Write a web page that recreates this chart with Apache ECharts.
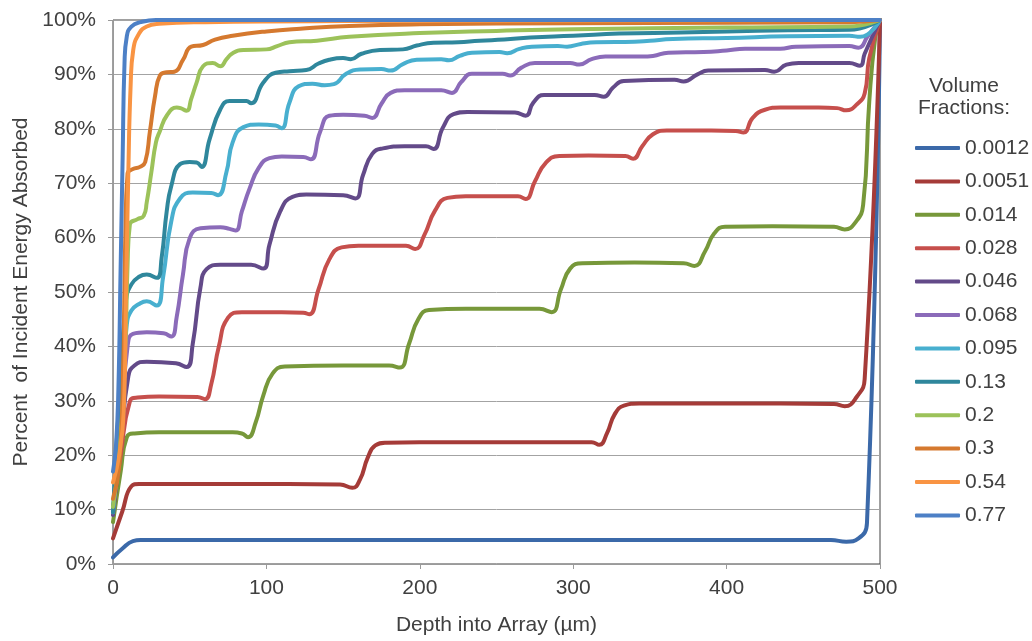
<!DOCTYPE html>
<html>
<head>
<meta charset="utf-8">
<title>Percent of Incident Energy Absorbed vs Depth</title>
<script src="https://cdn.jsdelivr.net/npm/echarts@6/dist/echarts.min.js"></script>
<style>
  html, body { margin: 0; padding: 0; background: #ffffff; }
  #chart { width: 1032px; height: 641px; }
</style>
</head>
<body>
<div id="chart"></div>
<script>
// Volume fractions shown in the legend, in drawing order
const fractions = ['0.0012', '0.0051', '0.014', '0.028', '0.046', '0.068',
                   '0.095', '0.13', '0.2', '0.3', '0.54', '0.77'];

// [depth (µm), percent absorbed] for each volume fraction
const vf0012 = [[0,1.2],[6,2.8],[13,4.2],[18,4.4],[100,4.4],[200,4.4],[300,4.4],[400,4.4],[468,4.4],[478,4.1],[486,4.7],[491.5,7.5],[500,100]];
const vf0051 = [[0,4.7],[6,9.6],[12,14.3],[17,14.7],[80,14.7],[148,14.6],[156,14.0],[161,15.5],[166,19.5],[171,21.8],[178,22.3],[200,22.4],[260,22.4],[312,22.4],[317,21.9],[322,24],[327,27.5],[333,29.1],[343,29.5],[400,29.5],[470,29.4],[477,29.0],[485,30.8],[490,34],[500,100]];
const vf014 = [[0,7.7],[5,17],[9,23.3],[14,24],[30,24.2],[78,24.2],[84,24],[88,23.3],[93,26],[98,31],[104,35],[112,36.3],[150,36.5],[180,36.5],[187,36.1],[193,40.5],[199,45],[206,46.7],[230,46.9],[278,46.9],[286,46.3],[292,50.5],[298,54.3],[306,55.3],[340,55.4],[372,55.3],[379,54.8],[386,57.5],[392,60.8],[399,62],[430,62.1],[470,62.0],[477,61.5],[484,62.8],[489,66],[493,85],[497,97],[500,100]];
const vf028 = [[0,10],[5,20],[11,29.9],[16,30.6],[30,30.8],[55,30.7],[60,30.3],[64,33],[69,40],[75,45.3],[84,46.3],[110,46.3],[124,46.2],[128,45.9],[134,50.5],[141,56],[149,58.2],[160,58.5],[191,58.5],[197,57.9],[203,60.5],[210,65],[218,67.3],[230,67.6],[264,67.6],[269,67.1],[275,70.3],[282,73.7],[291,75],[310,75.1],[334,75],[339,74.5],[345,76.8],[352,79],[361,79.7],[390,79.7],[406,79.6],[411,79.3],[417,82],[425,83.5],[435,83.9],[460,83.9],[472,83.8],[478,83.4],[485,84.5],[490,86.5],[493,93],[500,100]];
const vf046 = [[0,9],[5,22],[10,34.5],[14,36.5],[22,37.2],[41,36.9],[48,36.2],[52,40.5],[57,50.8],[61,54.2],[70,55],[90,55],[98,54.3],[102,58.7],[109,64.8],[117,67.5],[126,67.9],[150,67.8],[158,67.2],[163,71.5],[169,75.4],[176,76.4],[190,76.8],[204,76.8],[209,76.3],[215,80.2],[222,82.7],[231,83.1],[262,83],[269,82.4],[274,84.8],[281,86.2],[314,86.2],[320,85.9],[326,87.6],[333,88.8],[366,89],[372,88.7],[381,90],[388,90.7],[425,90.8],[431,90.5],[439,91.8],[447,92.1],[480,92.1],[487,91.6],[490,93.8],[500,100]];
const vf068 = [[0,9.5],[5,25],[9.5,40],[13,42.3],[22,42.6],[33,42.4],[38,41.8],[41.5,45.4],[45.6,53.2],[50,59.9],[57,61.7],[70,61.9],[76,61.6],[80,61.3],[84,64.8],[89,69],[95,72.8],[102,74.6],[110,74.9],[124,74.8],[129,74.4],[135,79.4],[141,82.4],[150,82.6],[164,82.4],[169,82.0],[175,84.6],[181,86.6],[190,87.1],[214,87.1],[221,86.6],[227,88.6],[234,90.1],[254,90.1],[259,89.8],[266,91.2],[275,92.1],[298,92.1],[304,91.8],[312,92.8],[321,93.3],[345,93.3],[352,93.4],[362,94],[385,94.1],[400,94.4],[412,94.7],[435,94.7],[445,95.1],[480,95.2],[486,94.9],[492,97],[500,100]];
const vf095 = [[0,9.5],[5,28],[9,44],[12,46.6],[17,47.8],[22,48.3],[28.5,47.5],[32.6,52.6],[38,63],[43.7,67.2],[52,68.3],[64,68.2],[68.5,67.8],[74,72.1],[78,77.5],[85,80.3],[95,80.8],[106,80.6],[110,80.1],[115,84.8],[121,87.8],[130,88.3],[138,88],[144,88.2],[152,90.1],[161,90.9],[175,91],[181,90.7],[189,91.9],[198,92.7],[214,92.8],[219,92.6],[226,93.4],[234,94],[252,94.1],[257,93.9],[265,94.7],[273,95.1],[290,95.2],[296,95.1],[305,95.6],[315,95.9],[340,96],[350,96.2],[365,96.5],[400,96.7],[440,97],[480,97.1],[487,96.9],[500,100]];
const vf13 = [[0,9.5],[4,30],[8.5,48.5],[12,51.4],[17,52.8],[22,53.2],[28.6,52.6],[31.7,56.3],[35,64.8],[38,69.5],[43.7,73.5],[50,73.9],[54.5,73.8],[57.8,73],[63,78.1],[70,83.6],[76,85.1],[87,85.1],[90,84.7],[98,88.5],[106,90.3],[115,90.6],[126,90.8],[134,92],[141,92.7],[150,93],[155,92.8],[162,93.8],[174,94.5],[189,94.6],[198,95.3],[209,95.8],[225,95.9],[239,96.2],[255,96.4],[272,96.8],[300,97.1],[330,97.5],[370,97.7],[400,97.9],[440,98.1],[480,98.2],[500,100]];
const vf2 = [[0,10.5],[4,20],[8,40],[9.5,55],[11,62.4],[16,63.4],[20,64],[22,66.5],[25,72],[28,77.5],[30.6,79.6],[35,82.4],[41.5,83.9],[44,83.8],[48,83.3],[51,85.5],[54.5,88.5],[58.7,91.5],[65,92.1],[70,91.5],[74,92.8],[78,93.9],[85,94.5],[100,94.6],[107,95.2],[115,95.9],[133,96.2],[154,96.9],[200,97.6],[250,98.0],[300,98.3],[400,98.6],[480,98.8],[500,100]];
const vf3 = [[0,12],[4,18],[6.5,35],[8,60],[9.5,71.8],[13,72.6],[17.6,73],[21,73.9],[24,79.4],[27.4,86],[30.6,89.8],[35,90.4],[40,90.5],[45.7,92.7],[51,95.1],[58.7,95.4],[66.5,96.4],[78,97.1],[100,97.9],[122,98.4],[154,98.9],[200,99.2],[300,99.4],[400,99.5],[480,99.6],[500,100]];
const vf54 = [[0,15],[4,20],[7,28],[8.5,50],[10,72],[11.5,88],[13.2,94.5],[17,97.5],[22,98.8],[30,99.3],[60,99.6],[150,99.8],[500,100]];
const vf77 = [[0,17],[2,22],[3.5,32],[5,55],[6.3,75],[7.5,92],[9,97],[12,98.8],[18,99.6],[28,100],[500,100]];

const curves = [vf0012, vf0051, vf014, vf028, vf046, vf068, vf095, vf13, vf2, vf3, vf54, vf77];

const colors = ['#3B69A9', '#A53B38', '#77983A', '#C64F4C', '#634A89', '#8B6BB9',
                '#48AFCF', '#2F879C', '#9CC25A', '#D5792F', '#F99443', '#4D80C6'];

const FONT = '"Liberation Sans", Arial, sans-serif';
const TEXT = '#404040';

const chart = echarts.init(document.getElementById('chart'), null, { renderer: 'canvas' });

chart.setOption({
  animation: false,
  backgroundColor: '#ffffff',
  color: colors,
  textStyle: { fontFamily: FONT },
  grid: {
    left: 113, right: 152, top: 20, bottom: 72,
    show: true, borderColor: '#404040', borderWidth: 1, backgroundColor: 'transparent'
  },
  xAxis: {
    type: 'value', min: 0, max: 500, interval: 100,
    name: 'Depth into Array (µm)', nameLocation: 'middle', nameGap: 51,
    nameTextStyle: { fontFamily: FONT, fontSize: 21, color: TEXT },
    axisLine: { show: true, lineStyle: { color: '#9A9A9A', width: 1 } },
    axisTick: { show: true, length: 5, lineStyle: { color: '#9A9A9A' } },
    axisLabel: { fontFamily: FONT, fontSize: 21, color: TEXT, margin: 14 },
    splitLine: { show: false }
  },
  yAxis: {
    type: 'value', min: 0, max: 100, interval: 10,
    name: 'Percent  of Incident Energy Absorbed', nameLocation: 'middle', nameGap: 81, nameRotate: 90,
    nameTextStyle: { fontFamily: FONT, fontSize: 21, color: TEXT },
    axisLine: { show: true, lineStyle: { color: '#9A9A9A', width: 1 } },
    axisTick: { show: true, length: 5, lineStyle: { color: '#9A9A9A' } },
    axisLabel: { fontFamily: FONT, fontSize: 21, color: TEXT, margin: 17, formatter: '{value}%' },
    splitLine: { show: true, lineStyle: { color: '#A3A3A3', width: 1 } }
  },
  legend: {
    orient: 'vertical', left: 915, top: 136, padding: 0,
    itemWidth: 45, itemHeight: 4, itemGap: 9.4,
    icon: 'roundRect', selectedMode: false,
    textStyle: { fontFamily: FONT, fontSize: 21, color: TEXT, lineHeight: 24 },
    data: fractions
  },
  graphic: [{
    type: 'text', x: 964, y: 75,
    style: {
      text: 'Volume\nFractions:', align: 'center', verticalAlign: 'top',
      fontFamily: FONT, fontSize: 21, lineHeight: 22, fill: TEXT
    }
  }],
  series: fractions.map((f, i) => ({
    name: f,
    type: 'line',
    data: curves[i],
    smooth: 0.5,
    showSymbol: false,
    symbol: 'none',
    clip: false,
    lineStyle: { width: 4, color: colors[i], cap: 'round', join: 'round' },
    itemStyle: { color: colors[i] },
    z: 2 + i
  }))
});
</script>
</body>
</html>
